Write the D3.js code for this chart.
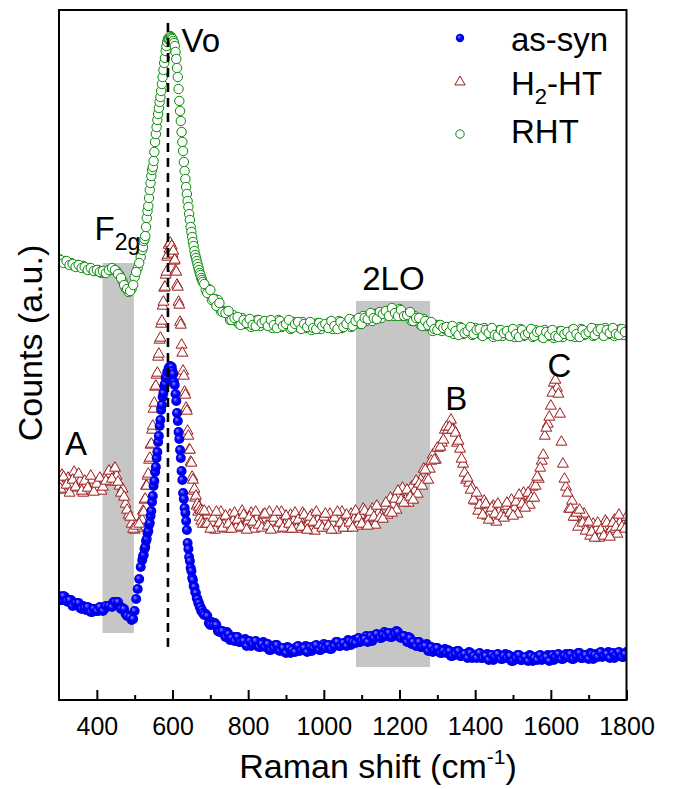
<!DOCTYPE html>
<html><head><meta charset="utf-8">
<script src="https://cdn.jsdelivr.net/npm/d3@7"></script>
<style>
body{margin:0;background:#fff}
svg{display:block}
text{font-family:"Liberation Sans",Arial,Helvetica,sans-serif;fill:#000}
</style>
</head><body>
<svg id="chart" width="674" height="789"></svg>
<script>
// ---------------- data (Raman shift in cm^-1, counts in a.u.) ----------------
const shift = [
300,308,316,324,332,340,348,356,364,372,380,388,396,404,412,420,428,436,444,452,460,468,476,484,492,500,508,516,
520,522,524,526,528,530,532,534,536,538,540,542,544,546,548,550,552,554,556,558,
560,562,564,566,568,570,572,574,576,578,580,582,584,586,588,590,592,594,596,598,
600,602,604,606,608,610,612,614,616,618,620,622,624,626,628,630,632,634,636,638,
640,642,644,646,648,650,652,654,656,658,660,662,664,666,668,670,672,674,676,678,680,
688,696,704,712,720,728,736,744,752,760,768,776,784,792,800,808,816,824,832,840,
848,856,864,872,880,888,896,904,912,920,928,936,944,952,960,968,976,984,992,1000,
1008,1016,1024,1032,1040,1048,1056,1064,1072,1080,1088,1096,1104,1112,1120,1128,1136,1144,1152,1160,
1168,1176,1184,1192,1200,1208,1216,1224,1232,1240,1248,1256,1264,1272,1280,1288,1296,1304,1312,1320,
1328,1336,1344,1352,1360,1368,1376,1384,1392,1400,1408,1416,1424,1432,1440,1448,1456,1464,1472,1480,
1488,1496,1504,1512,1520,1528,1536,1544,1552,1560,1568,1576,1584,1592,1600,1608,1616,1624,1632,1640,
1648,1656,1664,1672,1680,1688,1696,1704,1712,1720,1728,1736,1744,1752,1760,1768,1776,1784,1792,1800,
304,312,320,328,336,344,352,360,368,376,384,392,400,408,416,424,432,440,448,456,464,472,480,488,496,504,512,
684,692,700,708,716,724,732,740,748,756,764,772,780,788,796,804,812,820,828,836,
844,852,860,868,876,884,892,900,908,916,924,932,940,948,956,964,972,980,988,996,
1004,1012,1020,1028,1036,1044,1052,1060,1068,1076,1084,1092,1100,1108,1116,1124,1132,1140,1148,1156,
1164,1172,1180,1188,1196,1204,1212,1220,1228,1236,1244,1252,1260,1268,1276,1284,1292,1300,1308,1316,
1324,1332,1340,1348,1356,1364,1372,1380,1388,1396,1404,1412,1420,1428,1436,1444,1452,1460,1468,1476,
1484,1492,1500,1508,1516,1524,1532,1540,1548,1556,1564,1572,1580,1588,1596,1604,1612,1620,1628,1636,
1644,1652,1660,1668,1676,1684,1692,1700,1708,1716,1724,1732,1740,1748,1756,1764,1772,1780,1788,1796
];
const asSyn = [
104,100,103,98,100,95,96,92,94,90,92,88,91,89,92,91,94,94,98,96,94,92,86,84,80,89,111,133,
140,144,145,151,153,159,161,167,169,175,177,184,189,198,204,214,219,228,233,242,
248,258,264,274,280,290,295,303,307,314,316,322,323,328,328,332,331,334,332,333,
329,326,318,315,306,299,287,279,268,261,250,242,229,220,207,201,192,187,179,170,
157,151,143,139,132,129,122,120,114,113,108,107,102,101,97,97,93,93,89,90,87,
86,77,78,77,69,69,66,68,60,63,63,58,59,61,56,54,58,57,53,58,
56,50,54,55,50,51,50,53,47,51,53,49,51,54,50,49,54,53,50,56,
55,51,55,58,54,56,56,60,55,60,61,58,60,64,61,59,65,65,62,68,
67,63,67,69,63,64,61,63,56,58,58,53,54,56,51,48,52,50,47,51,
50,44,48,49,44,46,44,48,42,45,46,42,43,46,42,40,45,44,41,46,
45,39,43,45,40,42,41,45,39,43,44,40,42,45,42,40,45,44,41,46,
46,41,45,47,42,44,43,47,41,46,47,43,45,48,44,42,47,46,43,48,
100,104,99,100,94,97,97,91,92,93,88,91,89,93,89,94,94,93,98,98,91,91,84,83,81,101,121,
85,84,75,75,75,68,69,63,66,62,59,63,58,59,54,59,56,59,53,56,
53,56,50,52,55,49,52,47,52,50,48,54,50,52,48,53,52,55,50,53,
52,55,51,54,58,54,57,54,59,58,57,62,59,61,58,64,62,66,62,65,
64,67,63,66,68,62,64,58,62,58,54,58,53,54,49,53,50,52,47,49,
47,49,44,46,49,44,46,42,47,44,42,47,42,44,40,45,43,46,41,44,
42,44,39,42,45,40,43,39,44,42,40,45,41,43,39,45,43,46,41,44,
43,46,41,44,47,42,45,41,46,45,43,48,44,46,42,47,45,48,43,46
];
const h2HT = [
218,225,210,222,214,228,212,219,207,216,210,220,212,217,209,221,226,218,230,224,214,211,196,185,176,170,172,180,
180,189,188,200,201,214,214,224,226,240,242,255,256,270,274,291,297,313,314,325,
327,343,346,360,362,376,379,394,398,412,413,425,428,443,445,455,451,457,450,454,
446,449,439,440,429,428,415,413,398,395,378,375,355,347,329,324,308,305,292,289,
269,264,250,250,238,237,223,220,209,211,202,204,194,196,188,193,183,190,179,189,176,
176,188,177,170,183,188,175,171,185,179,172,182,189,175,179,187,171,182,177,185,
174,188,178,171,183,188,175,171,185,179,171,181,187,173,177,185,169,180,175,183,
172,186,176,170,183,188,175,172,186,181,174,185,191,178,182,191,175,187,184,194,
185,202,195,190,205,212,200,197,213,209,206,220,231,221,231,245,240,252,257,270,
270,280,270,257,251,236,220,217,212,199,189,195,199,184,187,194,178,189,185,194,
185,200,192,186,201,207,196,195,213,214,221,239,264,276,294,317,312,286,236,213,
191,199,183,173,184,186,170,164,176,170,162,172,179,166,171,180,166,178,174,183,
211,223,215,207,220,213,226,209,219,212,224,208,216,222,213,219,229,221,232,218,207,203,190,183,171,174,176,
189,176,171,182,188,177,172,184,176,171,187,180,173,185,170,183,178,188,175,172,
186,174,170,182,188,177,172,184,176,171,187,180,173,185,170,183,178,188,175,172,
186,174,170,182,188,177,172,185,177,172,189,182,176,189,174,188,183,194,182,181,
197,188,187,201,209,200,197,210,203,200,219,216,214,230,220,239,240,252,253,260,
273,273,270,267,259,241,227,222,210,200,207,195,185,196,180,192,186,196,184,182,
197,187,184,198,205,196,192,207,202,202,223,232,245,272,283,307,320,306,258,221,
207,191,183,187,190,177,169,178,168,162,177,170,164,177,163,177,173,185,173,171
];
const rht = [
441,438,439,436,437,434,435,433,434,431,432,430,429,430,427,428,429,430,431,429,425,419,412,408,411,423,432,443,
450,453,459,461,464,473,482,489,494,502,510,517,524,530,533,539,548,558,566,573,
580,586,592,598,603,609,616,623,630,637,642,649,654,658,661,662,661,664,663,662,
661,659,657,654,648,641,632,623,611,599,589,579,568,558,549,538,529,521,513,506,
499,493,486,480,473,468,463,458,454,449,445,442,439,436,433,430,427,425,422,420,418,
410,411,400,401,400,389,389,388,380,385,379,376,382,376,379,373,379,380,374,377,
375,379,372,377,380,373,376,378,371,378,374,372,378,372,375,370,376,377,371,374,
373,378,371,376,379,372,376,378,373,380,377,376,384,379,383,379,386,387,382,386,
385,390,384,389,391,384,386,386,379,384,379,375,381,374,376,369,375,375,369,371,
369,373,366,370,373,366,369,371,365,372,367,365,372,366,369,363,369,370,364,367,
365,370,363,368,371,364,367,369,363,370,365,363,370,364,367,362,368,369,363,366,
365,370,363,368,371,365,368,370,364,371,367,365,372,366,369,364,370,371,365,368,
440,437,439,435,436,433,435,432,433,430,432,429,430,428,429,427,430,432,430,426,422,415,411,409,415,428,437,
416,407,410,401,394,397,388,387,389,380,382,383,375,380,377,381,375,374,380,377,
379,374,380,375,372,379,374,376,380,372,376,378,371,376,373,378,372,371,377,374,
376,372,379,374,371,378,373,376,381,374,379,382,376,382,381,387,382,381,388,386,
389,384,392,387,384,390,384,385,388,379,382,382,374,379,375,378,371,370,375,372,
373,368,374,369,365,372,367,369,373,366,370,371,364,370,367,372,365,364,370,367,
369,364,371,366,363,370,365,367,371,364,368,369,362,368,365,370,364,363,369,366,
368,364,371,366,363,370,366,368,372,365,369,371,364,370,367,372,366,365,371,368
];
const seriesNames = ["as-syn", "H2-HT", "RHT"];
const xTicks = [400,600,800,1000,1200,1400,1600,1800];
const xMinorTicks = [500,700,900,1100,1300,1500,1700];
const bandNames = ["F2g", "2LO"];
const bandStart = [415, 1085];
const bandEnd = [498, 1281];
const bandLow = [67, 33];
const bandHigh = [437, 399];
const voShift = 588, voLow = 49, voHigh = 677;

// ---------------- layout ----------------
const W = 674, H = 789;
const m = {l: 59, r: 47.5, t: 10, b: 89};
const svg = d3.select("#chart");
const x = d3.scaleLinear().domain([300, 1800]).range([m.l, W - m.r]);
const y = d3.scaleLinear().domain([0, 690]).range([H - m.b, m.t]);
const FONT = '"Liberation Sans",Arial,Helvetica,sans-serif';

const defs = svg.append("defs");
defs.append("clipPath").attr("id", "plotclip").append("rect")
  .attr("x", m.l).attr("y", m.t).attr("width", W - m.l - m.r).attr("height", H - m.t - m.b);
const grad = defs.append("radialGradient").attr("id", "blueball")
  .attr("cx", "50%").attr("cy", "50%").attr("r", "55%").attr("fx", "35%").attr("fy", "32%");
grad.append("stop").attr("offset", "0%").attr("stop-color", "#8c8cff");
grad.append("stop").attr("offset", "45%").attr("stop-color", "#0000ff");
grad.append("stop").attr("offset", "100%").attr("stop-color", "#0000d8");

const plot = svg.append("g").attr("clip-path", "url(#plotclip)");

// gray bands
plot.selectAll("rect.band").data(bandNames).join("rect").attr("class", "band")
  .attr("x", (d, i) => x(bandStart[i]))
  .attr("width", (d, i) => x(bandEnd[i]) - x(bandStart[i]))
  .attr("y", (d, i) => y(bandHigh[i]))
  .attr("height", (d, i) => y(bandLow[i]) - y(bandHigh[i]))
  .attr("fill", "#c6c6c6");

const n = Math.min(shift.length, asSyn.length, h2HT.length, rht.length);
const idx = d3.range(n);
const RED = "#9c1b1b", GREEN = "#0a8a0a";
const tri = d3.symbol().type(d3.symbolTriangle).size(52);

// H2-HT triangles
plot.append("g").selectAll("path").data(idx).join("path")
  .attr("d", tri)
  .attr("transform", i => `translate(${x(shift[i])},${y(h2HT[i])})`)
  .attr("fill", "#fff").attr("stroke", RED).attr("stroke-width", 1);

// as-syn filled circles
plot.append("g").selectAll("circle").data(idx).join("circle")
  .attr("cx", i => x(shift[i])).attr("cy", i => y(asSyn[i])).attr("r", 5)
  .attr("fill", "url(#blueball)");

// RHT open circles
plot.append("g").selectAll("circle").data(idx).join("circle")
  .attr("cx", i => x(shift[i])).attr("cy", i => y(rht[i])).attr("r", 4.7)
  .attr("fill", "#fff").attr("stroke", GREEN).attr("stroke-width", 1);

// Vo dashed line
svg.append("line")
  .attr("x1", x(voShift)).attr("x2", x(voShift))
  .attr("y1", y(voHigh)).attr("y2", y(voLow))
  .attr("stroke", "#000").attr("stroke-width", 2.6).attr("stroke-dasharray", "9,6");

// frame
svg.append("rect").attr("x", m.l).attr("y", m.t)
  .attr("width", W - m.l - m.r).attr("height", H - m.t - m.b)
  .attr("fill", "none").attr("stroke", "#000").attr("stroke-width", 2);

// bottom axis (ticks inward)
const gx = svg.append("g").attr("transform", `translate(0,${H - m.b})`)
  .call(d3.axisBottom(x).tickValues(xTicks).tickSizeInner(-10).tickSizeOuter(0).tickPadding(17).tickFormat(d3.format("d")));
gx.select(".domain").remove();
gx.selectAll("line").attr("stroke", "#000").attr("stroke-width", 2);
gx.selectAll("text").attr("font-size", 25).attr("font-family", FONT).attr("fill", "#000");
const gxm = svg.append("g").attr("transform", `translate(0,${H - m.b})`)
  .call(d3.axisBottom(x).tickValues(xMinorTicks).tickSizeInner(-5).tickSizeOuter(0).tickFormat(""));
gxm.select(".domain").remove();
gxm.selectAll("line").attr("stroke", "#000").attr("stroke-width", 2);

// axis titles
const xt = svg.append("text").attr("x", 378).attr("y", 778).attr("text-anchor", "middle")
  .attr("font-size", 34);
xt.append("tspan").text("Raman shift (cm");
xt.append("tspan").attr("font-size", 21).attr("dy", -14).text("-1");
xt.append("tspan").attr("dy", 14).text(")");

svg.append("text").attr("transform", "translate(42,343) rotate(-90)")
  .attr("text-anchor", "middle").attr("font-size", 34).text("Counts (a.u.)");

// annotations
const ann = (t, xv, yv, anchor) => svg.append("text").attr("x", x(xv)).attr("y", y(yv))
  .attr("text-anchor", anchor || "start").attr("font-size", 33).text(t);
ann("Vo", 624, 648);
ann("A", 316, 245);
ann("B", 1321, 290);
ann("C", 1591, 323);
ann("2LO", 1184, 410, "middle");
const f2g = svg.append("text").attr("x", x(394)).attr("y", y(460)).attr("font-size", 33);
f2g.append("tspan").text("F");
f2g.append("tspan").attr("font-size", 23).attr("dy", 10).text("2g");

// legend
const lg = svg.append("g");
const legMX = 460, legTX = 511;
const legMY = [38, 82, 134], legTY = [51, 95, 143];
lg.append("circle").attr("cx", legMX).attr("cy", legMY[0]).attr("r", 4.2).attr("fill", "url(#blueball)");
lg.append("path").attr("d", d3.symbol().type(d3.symbolTriangle).size(46)).attr("transform", `translate(${legMX},${legMY[1]})`)
  .attr("fill", "#fff").attr("stroke", RED).attr("stroke-width", 1);
lg.append("circle").attr("cx", legMX).attr("cy", legMY[2]).attr("r", 4.2)
  .attr("fill", "#fff").attr("stroke", GREEN).attr("stroke-width", 1);
lg.append("text").attr("x", legTX).attr("y", legTY[0]).attr("font-size", 33).text(seriesNames[0]);
const lt = lg.append("text").attr("x", legTX).attr("y", legTY[1]).attr("font-size", 33);
lt.append("tspan").text("H");
lt.append("tspan").attr("font-size", 22).attr("dy", 9).text("2");
lt.append("tspan").attr("dy", -9).text("-HT");
lg.append("text").attr("x", legTX).attr("y", legTY[2]).attr("font-size", 33).text(seriesNames[2]);
</script>
</body></html>
